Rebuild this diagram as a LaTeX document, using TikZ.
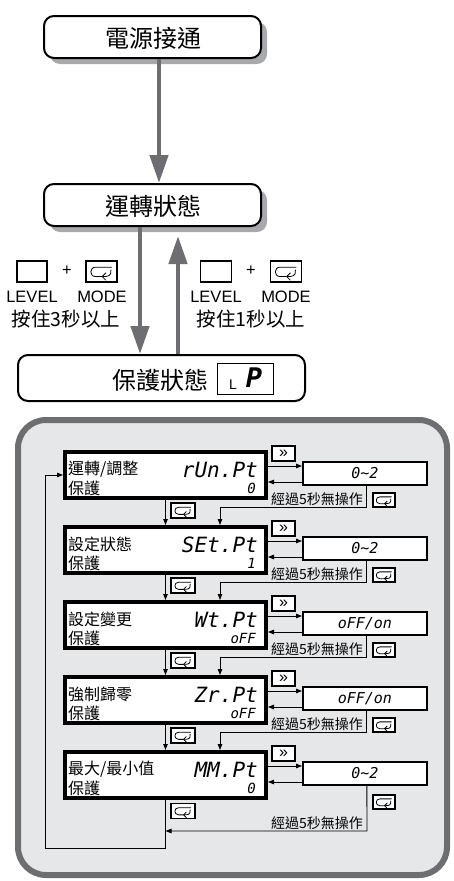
\documentclass[tikz,border=0pt]{standalone}
\usepackage{fontspec}
\setmainfont{Liberation Sans}
\newfontfamily\cjk{Noto Sans CJK TC}
\newfontfamily\seg{DejaVu Sans Mono}
\usetikzlibrary{arrows.meta,shadows,calc}
\definecolor{arrowgray}{HTML}{6D6E71}
\definecolor{shadowgray}{HTML}{A7A9AC}
\definecolor{panelfill}{HTML}{E6E7E8}
\definecolor{panelline}{HTML}{6D6E71}
\tikzset{
  flowbox/.style={draw=black, line width=2pt, rounded corners=10pt, fill=white, inner sep=0pt},
  shadowed/.style={drop shadow={shadow xshift=6pt, shadow yshift=-6pt, opacity=1, fill=shadowgray}},
  bigarrow/.style={draw=arrowgray, line width=4.5pt, -{Triangle[length=28pt,width=18pt]}},
  lcd/.style={draw=black, line width=4pt, fill=white, inner sep=0pt},
  valbox/.style={draw=black, line width=1.8pt, fill=white, inner sep=0pt},
  keybox/.style={draw=black, line width=1.2pt, fill=white, inner sep=0pt},
  thinline/.style={draw=black, line width=0.9pt},
  thinarrow/.style={thinline, -{Triangle[length=6pt,width=4.5pt]}},
  bigcjk/.style={font=\cjk\fontsize{24}{26}\selectfont, inner sep=0pt},
  holdcjk/.style={font=\cjk\fontsize{19.5}{21}\selectfont, inner sep=0pt},
  keylabel/.style={font=\fontsize{16.5}{18}\selectfont, inner sep=0pt},
  lcdcjk/.style={font=\cjk\fontsize{16}{18}\selectfont, inner sep=0pt},
  notecjk/.style={font=\cjk\fontsize{14}{16}\selectfont, inner sep=0pt},
  segmain/.style={font=\seg\itshape\fontsize{21}{23}\selectfont, inner sep=0pt},
  segsub/.style={font=\seg\itshape\fontsize{14}{16}\selectfont, inner sep=0pt},
  segval/.style={font=\seg\itshape\fontsize{15}{17}\selectfont},
  modesym/.pic={
    \draw[line width=0.8pt, line cap=round, line join=round]
      (7,-3) -- (-4,-3) .. controls (-8.5,-3) and (-8.5,3.5) .. (-4,3.5) -- (0,3.5);
    \draw[line width=0.8pt, line cap=round, line join=round]
      (6.5,-1) .. controls (7,3.5) and (4,3.5) .. (0.5,3.5);
    \draw[line width=0.8pt, line cap=round, line join=round]
      (3,1) -- (0.5,3.5) -- (3,6);
  }
}
\begin{document}
\begin{tikzpicture}[x=1pt,y=-1pt]
\useasboundingbox (0,0) rectangle (454,881);

% ---- top flow ----
\node[flowbox, shadowed, minimum width=217pt, minimum height=42pt] (power) at (152.5,37) {};
\node[bigcjk] (powert) at (153,38) {電源接通};
\node[flowbox, shadowed, minimum width=217pt, minimum height=42pt] (run) at (152.5,205) {};
\node[bigcjk] (runt) at (153,206) {運轉狀態};
\node[flowbox, minimum width=287pt, minimum height=46pt] (prot) at (161.5,378) {};
\node[bigcjk] (prott) at (160,380) {保護狀態};
\node[keybox, minimum width=56pt, minimum height=31pt] (lp) at (245.5,379) {};
\node[font=\fontsize{14}{16}\selectfont, inner sep=0pt] (lpl) at (233,385) {L};
\node[font=\seg\bfseries\itshape\fontsize{27}{29}\selectfont, inner sep=0pt] (lpp) at (254,378) {P};

\draw[bigarrow] ([xshift=6.5pt]power.south) -- ([xshift=6.5pt]run.north);
\draw[bigarrow] ([xshift=-12.5pt]run.south) -- ([xshift=-12.5pt]run.south |- prot.north);
\coordinate (uptip) at (178,236);
\draw[bigarrow] (uptip |- prot.north) -- (uptip);

% left key label
\node[keybox, minimum width=30pt, minimum height=21pt] (lvA) at (32,271.5) {};
\node[keylabel] (plA) at (67,271) {+};
\node[keybox, minimum width=31pt, minimum height=21pt] (mdA) at (101.5,271.5) {};
\pic[scale=1.45] at (mdA.center) {modesym};
\node[keylabel] (lvtA) at (32,297) {LEVEL};
\node[keylabel] (mdtA) at (102,297) {MODE};
\node[holdcjk] (hA) at (66,319) {按住3秒以上};
% right key label
\node[keybox, minimum width=31pt, minimum height=21pt] (lvB) at (216,271.5) {};
\node[keylabel] (plB) at (251,271) {+};
\node[keybox, minimum width=31pt, minimum height=21pt] (mdB) at (286,271.5) {};
\pic[scale=1.45] at (mdB.center) {modesym};
\node[keylabel] (lvtB) at (216,297) {LEVEL};
\node[keylabel] (mdtB) at (286,297) {MODE};
\node[holdcjk] (hB) at (251,319) {按住1秒以上};

% ---- panel ----
\draw[draw=panelline, fill=panelfill, line width=6pt, rounded corners=28pt] (18,420) rectangle (447,875);

\foreach \i/\la/\code/\sub/\val in {
  0/{運轉/調整}/{rUn.Pt}/{0}/{0\textasciitilde2},
  1/{設定狀態}/{SEt.Pt}/{1}/{0\textasciitilde2},
  2/{設定變更}/{Wt.Pt}/{oFF}/{oFF/on},
  3/{強制歸零}/{Zr.Pt}/{oFF}/{oFF/on},
  4/{最大/最小值}/{MM.Pt}/{0}/{0\textasciitilde2}} {
  \pgfmathsetmacro\yo{450+75*\i}
  \node[lcd, minimum width=201pt, minimum height=46pt, anchor=north west] (lcd\i) at (63,\yo) {};
  \node[lcdcjk, anchor=west] (la\i) at (68,{\yo+19}) {\la};
  \node[lcdcjk, anchor=west] (lb\i) at (68,{\yo+38}) {保護};
  \node[segmain, anchor=east] (cd\i) at (258,{\yo+20}) {\code};
  \node[segsub, anchor=east] (sb\i) at (256,{\yo+38}) {\sub};
  \node[valbox, minimum width=124pt, minimum height=23pt, anchor=north west, segval] (vb\i) at (302,{\yo+11}) {\val};
  \node[keybox, minimum width=23pt, minimum height=15pt, font=\fontsize{16}{16}\selectfont] (ff\i) at (283.5,{\yo+3.5}) {»};
  \draw[thinarrow] ([yshift=9pt]lcd\i.east) -- ([yshift=9pt]lcd\i.east -| vb\i.west);
  \draw[thinarrow] ([yshift=-7pt]lcd\i.east -| vb\i.west) -- ([yshift=-7pt]lcd\i.east);
}

\foreach \i in {0,1,2,3} {
  \pgfmathsetmacro\yo{450+75*\i}
  \pgfmathtruncatemacro\j{\i+1}
  \draw[thinarrow] (lcd\i.south) -- (lcd\j.north);
  \node[keybox, minimum width=24pt, minimum height=15pt] (mk\i) at (183,{\yo+60.5}) {};
  \pic[scale=1.1] at (mk\i.center) {modesym};
  \coordinate (turn\i) at (220,{\yo+57});
  \draw[thinarrow] ([xshift=2pt]vb\i.south) |- (turn\i) -- (turn\i |- lcd\j.north);
  \node[notecjk, anchor=east] (nt\i) at (363,{\yo+49}) {經過5秒無操作};
  \node[keybox, minimum width=22pt, minimum height=14pt] (mr\i) at (384,{\yo+50}) {};
  \pic[scale=1.05] at (mr\i.center) {modesym};
}

% last row
\node[keybox, minimum width=24pt, minimum height=15pt] (mk4) at (183,811) {};
\pic[scale=1.1] at (mk4.center) {modesym};
\node[keybox, minimum width=22pt, minimum height=14pt] (mr4) at (384,802) {};
\pic[scale=1.05] at (mr4.center) {modesym};
\node[notecjk, anchor=east] (nt4) at (363,823) {經過5秒無操作};
\coordinate (back4) at (367,831);
\draw[thinarrow] ([xshift=2pt]vb4.south) -- (back4) -- (back4 -| lcd4.south);
\coordinate (loopbot) at (45,848);
\draw[thinarrow] (lcd4.south) |- (loopbot) |- (lcd0.west);
\end{tikzpicture}
\end{document}
